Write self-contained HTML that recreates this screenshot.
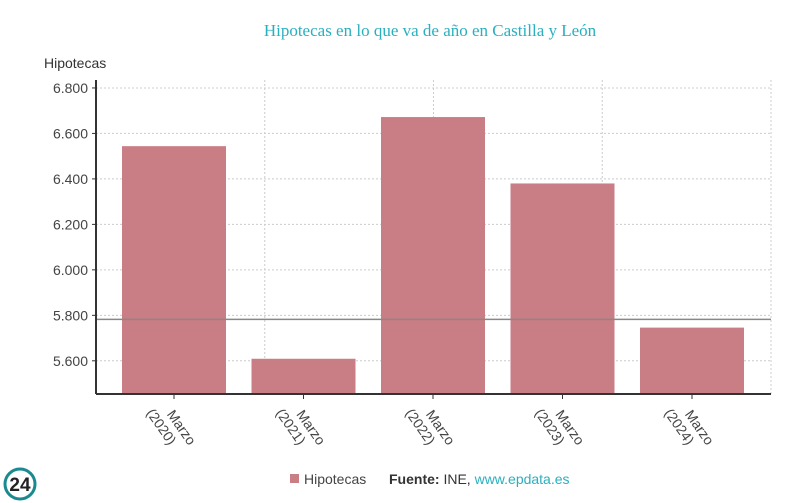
<!DOCTYPE html>
<html><head><meta charset="utf-8">
<style>
body{margin:0;background:#fff;}
svg{display:block;font-family:"Liberation Sans",Arial,sans-serif;}
</style></head>
<body>
<svg id="chart" width="800" height="503" viewBox="0 0 800 503">
<text x="430" y="36" text-anchor="middle" font-family="Liberation Serif, serif" font-size="17" fill="#29b0bf">Hipotecas en lo que va de año en Castilla y León</text>
<text x="44" y="68" font-size="14" fill="#333">Hipotecas</text>
<g id="grid"></g>
<g id="bars"></g>
<g id="axes"></g>
<g>
<rect x="290" y="474" width="9" height="9" fill="#c97d84"/>
<text x="304" y="484" font-size="14" fill="#444">Hipotecas</text>
<text x="389" y="484" font-size="14" fill="#333"><tspan font-weight="bold">Fuente:</tspan> INE, <tspan fill="#29b0bf">www.epdata.es</tspan></text>
</g>
<g>
<circle cx="20" cy="484" r="15" fill="none" stroke="#1a8a8f" stroke-width="3"/>
<text x="20" y="491" text-anchor="middle" font-size="19" font-weight="bold" fill="#222">24</text>
</g>
</svg>
<script>
const categories=["Marzo|(2020)","Marzo|(2021)","Marzo|(2022)","Marzo|(2023)","Marzo|(2024)"];
const values=[6544,5609,6672,6380,5746];
const yTicks=[5600,5800,6000,6200,6400,6600,6800];
const yTickLabels=["5.600","5.800","6.000","6.200","6.400","6.600","6.800"];
const refLine=[5782];

const NS="http://www.w3.org/2000/svg";
const L=96,R=771,T=80,B=394,yMin=5454,yMax=6835;
const band=129.5,x0=109.25,barW=104;
function y(v){return B-(v-yMin)/(yMax-yMin)*(B-T);}
function xc(i){return x0+band*(i+0.5);}
function mk(tag,attrs,parent){const e=document.createElementNS(NS,tag);for(const k in attrs)e.setAttribute(k,attrs[k]);parent.appendChild(e);return e;}
const grid=document.getElementById('grid'),bars=document.getElementById('bars'),axes=document.getElementById('axes');

yTicks.forEach((t,i)=>{
  const g=mk('line',{x1:L,x2:R,y1:y(t),y2:y(t),stroke:'#ccc','stroke-dasharray':'2,2'},grid);
  
  
  const tk=mk('line',{x1:L-4,x2:L,y1:y(t),y2:y(t),stroke:'#333'},axes);
  
  
  const lb=mk('text',{x:L-8,y:y(t)+5,'text-anchor':'end','font-size':'14',fill:'#444'},axes);
  lb.textContent=yTickLabels[i];
  
  
});
for(let i=1;i<=4;i++){
  const gx=L+(R-L)/4*i;
  const v=mk('line',{x1:gx,x2:gx,y1:T,y2:B,stroke:'#ccc','stroke-dasharray':'2,2'},grid);
  
  
}
values.forEach((v,i)=>{
  const r=mk('rect',{x:xc(i)-barW/2,y:y(v),width:barW,height:B-y(v),fill:'#c97d84'},bars);
  
  
  const tk=mk('line',{x1:xc(i),x2:xc(i),y1:B,y2:B+5,stroke:'#333'},axes);
  
  
  const parts=categories[i].split('|');
  const t=mk('text',{transform:`translate(${xc(i)-4},${B+8}) rotate(55)`,'font-size':'14',fill:'#444'},axes);
  
  
  const s1=mk('tspan',{x:8,dy:10},t);s1.textContent=parts[0];
  const s2=mk('tspan',{x:-5,dy:16},t);s2.textContent=parts[1];
});
refLine.forEach(v=>{
  const l=mk('line',{x1:L,x2:R,y1:y(v),y2:y(v),stroke:'#888','stroke-width':1.5},bars);
  
  
});
const ya=mk('line',{x1:L,x2:L,y1:T,y2:B,stroke:'#333','stroke-width':2},axes);


const xa=mk('line',{x1:L,x2:R,y1:B,y2:B,stroke:'#333','stroke-width':2},axes);


</script>
</body></html>
